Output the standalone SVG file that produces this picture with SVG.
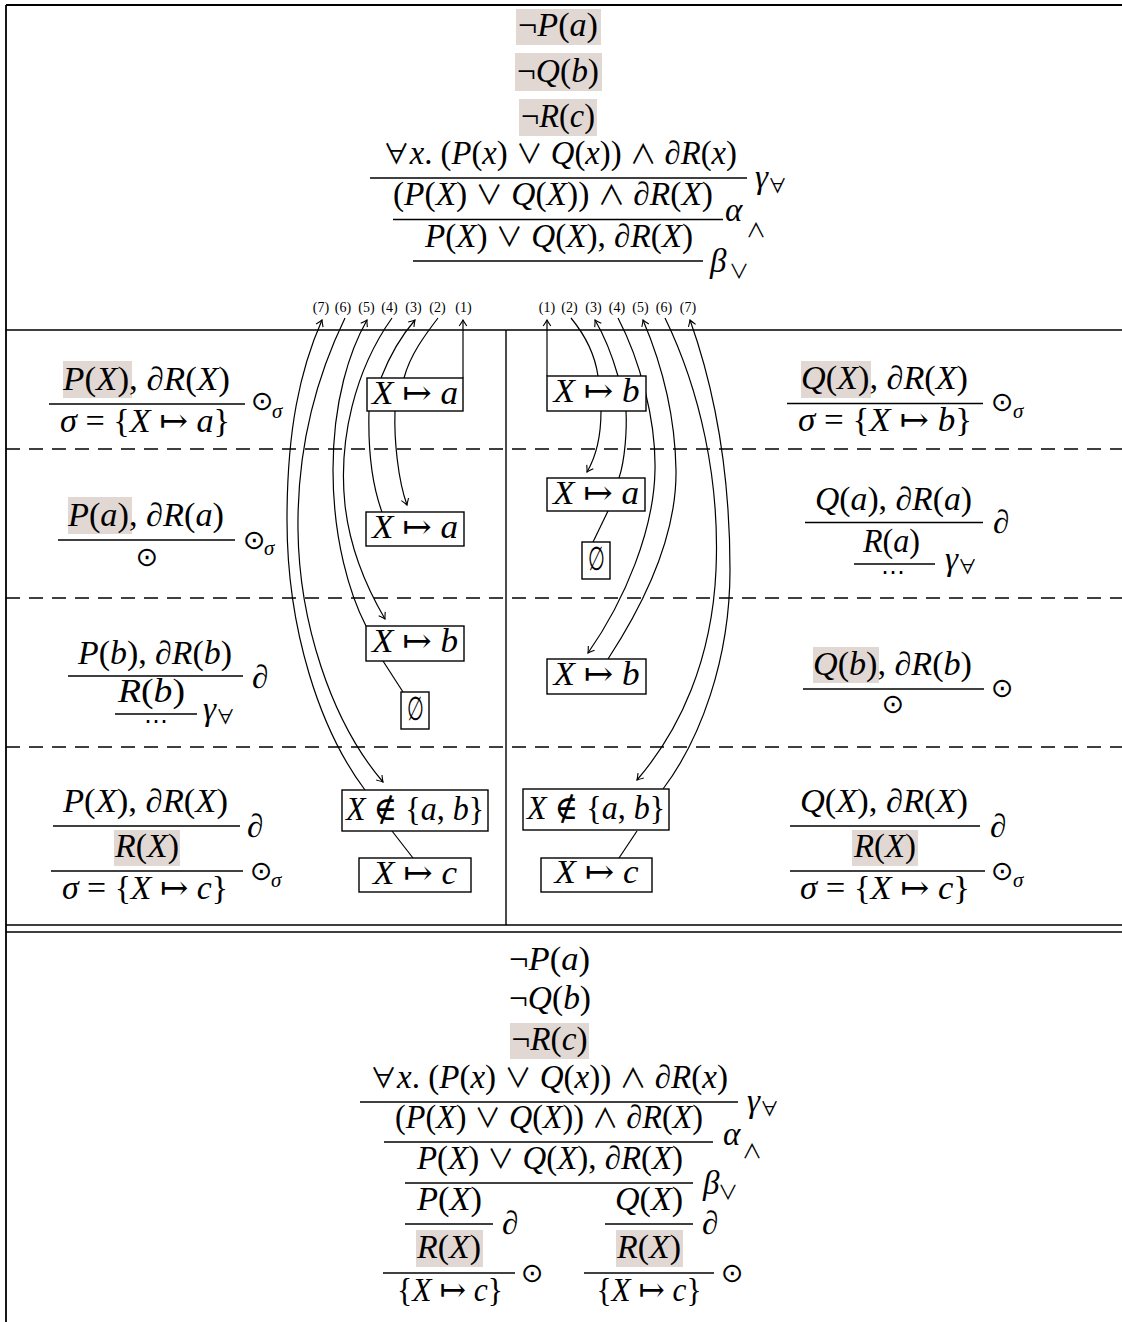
<svg xmlns="http://www.w3.org/2000/svg" width="1122" height="1322" viewBox="0 0 1122 1322">
<style>
text { font-family: "Liberation Serif", "DejaVu Serif", serif; fill: #000; }
.m { font-size: 33px; text-anchor: middle; }
.s { font-size: 33px; }
.i { font-style: italic; }
.o { font-family: "DejaVu Serif", serif; font-style: normal; font-weight: normal; }
.l { font-family: "Noto Sans CJK JP", "DejaVu Sans", sans-serif; font-style: normal; font-weight: 400; font-size: 27px; }
.sb { font-size: 19px; font-family: "Noto Sans CJK JP", "DejaVu Sans", sans-serif; font-weight: 400; }
.sb2 { font-size: 20px; font-family: "Noto Sans CJK JP", "DejaVu Sans", sans-serif; font-weight: 400; }
.od { font-size: 27px; font-family: "DejaVu Sans", sans-serif; }
.odm { font-size: 27px; font-family: "DejaVu Sans", sans-serif; text-anchor: middle; }
.dt { font-size: 24px; font-family: "DejaVu Sans", sans-serif; text-anchor: middle; }
.lb { font-size: 14px; text-anchor: middle; }
.hl { fill: #e1d7d3; }
.fr { stroke: #000; stroke-width: 1.3; }
.bd { stroke: #000; stroke-width: 1.8; fill: none; }
.sl { stroke: #000; stroke-width: 1.4; fill: none; }
.ds { stroke: #000; stroke-width: 1.3; stroke-dasharray: 14 9; fill: none; }
.bx { fill: #fff; stroke: #000; stroke-width: 1.4; }
.cn { fill: none; stroke: #000; stroke-width: 1.2; }
.ar { marker-end: url(#ah); }
</style>
<defs>
<marker id="ah" viewBox="-8 -5 10 10" refX="0" refY="0" markerWidth="10" markerHeight="10" markerUnits="userSpaceOnUse" orient="auto">
<path d="M-6,-3.8 Q-2,-1 0,0 Q-2,1 -6,3.8" fill="none" stroke="#000" stroke-width="1.1"/>
</marker>
</defs>
<rect width="1122" height="1322" fill="#fff"/>

<g id="frame">
<path class="bd" d="M6,5 H1122 M6,5 V1322"/>
<path class="sl" d="M6,330 H1122 M506,330 V925 M6,925 H1122 M6,932 H1122"/>
<path class="ds" d="M6,449 H1122 M6,598 H1122 M6,747 H1122"/>
</g>

<g id="top-proof">
<rect class="hl" x="516" y="9" width="85" height="36"/>
<rect class="hl" x="515" y="53" width="87" height="38"/>
<rect class="hl" x="519" y="99" width="78" height="37"/>
<text class="m" x="558" y="36" textLength="80" lengthAdjust="spacingAndGlyphs">¬<tspan class="i">P</tspan>(<tspan class="i">a</tspan>)</text>
<text class="m" x="558" y="82" textLength="82" lengthAdjust="spacingAndGlyphs">¬<tspan class="i">Q</tspan>(<tspan class="i">b</tspan>)</text>
<text class="m" x="558" y="127" textLength="74" lengthAdjust="spacingAndGlyphs">¬<tspan class="i">R</tspan>(<tspan class="i">c</tspan>)</text>
<text class="m" x="560" y="164" textLength="354" lengthAdjust="spacingAndGlyphs"><tspan class="l">∀</tspan><tspan class="i">x</tspan>. (<tspan class="i">P</tspan>(<tspan class="i">x</tspan>) <tspan class="l">∨</tspan> <tspan class="i">Q</tspan>(<tspan class="i">x</tspan>)) <tspan class="l">∧</tspan> ∂<tspan class="i">R</tspan>(<tspan class="i">x</tspan>)</text>
<line class="fr" x1="370" y1="178" x2="747" y2="178"/>
<text class="s i" x="755" y="188">γ</text><text class="sb" x="768" y="193">∀</text>
<text class="m" x="553" y="205" textLength="320" lengthAdjust="spacingAndGlyphs">(<tspan class="i">P</tspan>(<tspan class="i">X</tspan>) <tspan class="l">∨</tspan> <tspan class="i">Q</tspan>(<tspan class="i">X</tspan>)) <tspan class="l">∧</tspan> ∂<tspan class="i">R</tspan>(<tspan class="i">X</tspan>)</text>
<line class="fr" x1="393" y1="219.5" x2="723" y2="219.5"/>
<text class="s i" x="725" y="221">α</text><text class="sb2" x="746" y="238">∧</text>
<text class="m" x="559" y="247" textLength="268" lengthAdjust="spacingAndGlyphs"><tspan class="i">P</tspan>(<tspan class="i">X</tspan>) <tspan class="l">∨</tspan> <tspan class="i">Q</tspan>(<tspan class="i">X</tspan>), ∂<tspan class="i">R</tspan>(<tspan class="i">X</tspan>)</text>
<line class="fr" x1="413" y1="261" x2="703" y2="261"/>
<text class="s i" x="710" y="272">β</text><text class="sb2" x="729" y="279">∨</text>
</g>

<g id="branch-labels">
<text class="lb" x="321" y="312">(7)</text>
<text class="lb" x="343" y="312">(6)</text>
<text class="lb" x="366.5" y="312">(5)</text>
<text class="lb" x="389.5" y="312">(4)</text>
<text class="lb" x="413.5" y="312">(3)</text>
<text class="lb" x="437.5" y="312">(2)</text>
<text class="lb" x="463.5" y="312">(1)</text>
<text class="lb" x="547" y="312">(1)</text>
<text class="lb" x="569.5" y="312">(2)</text>
<text class="lb" x="593.5" y="312">(3)</text>
<text class="lb" x="617" y="312">(4)</text>
<text class="lb" x="640.5" y="312">(5)</text>
<text class="lb" x="664" y="312">(6)</text>
<text class="lb" x="688" y="312">(7)</text>
</g>

<g id="left-row1">
<rect class="hl" x="63" y="361" width="69" height="37"/>
<text class="m" x="146.5" y="390" textLength="167" lengthAdjust="spacingAndGlyphs"><tspan class="i">P</tspan>(<tspan class="i">X</tspan>), ∂<tspan class="i">R</tspan>(<tspan class="i">X</tspan>)</text>
<line class="fr" x1="49" y1="404" x2="245" y2="404"/>
<text class="m" x="145" y="432" textLength="170" lengthAdjust="spacingAndGlyphs"><tspan class="i">σ</tspan> = {<tspan class="i">X</tspan> <tspan class="o">↦</tspan> <tspan class="i">a</tspan>}</text>
<text class="od" x="251" y="410">⊙</text><text class="i" font-size="21" x="272" y="418">σ</text>
</g>

<g id="left-row2">
<rect class="hl" x="68" y="497" width="64" height="37"/>
<text class="m" x="146" y="526" textLength="156" lengthAdjust="spacingAndGlyphs"><tspan class="i">P</tspan>(<tspan class="i">a</tspan>), ∂<tspan class="i">R</tspan>(<tspan class="i">a</tspan>)</text>
<line class="fr" x1="58" y1="540" x2="235" y2="540"/>
<text class="odm" x="147" y="566">⊙</text>
<text class="od" x="243" y="549">⊙</text><text class="i" font-size="21" x="264" y="555">σ</text>
</g>

<g id="left-row3">
<text class="m" x="155" y="664" textLength="154" lengthAdjust="spacingAndGlyphs"><tspan class="i">P</tspan>(<tspan class="i">b</tspan>), ∂<tspan class="i">R</tspan>(<tspan class="i">b</tspan>)</text>
<line class="fr" x1="68" y1="676" x2="243" y2="676"/>
<text class="s" x="252" y="688">∂</text>
<text class="m" x="151.5" y="702" textLength="67" lengthAdjust="spacingAndGlyphs"><tspan class="i">R</tspan>(<tspan class="i">b</tspan>)</text>
<line class="fr" x1="115" y1="714" x2="197" y2="714"/>
<text class="dt" x="156" y="729">⋯</text>
<text class="s i" x="203" y="720">γ</text><text class="sb" x="216" y="724">∀</text>
</g>

<g id="left-row4">
<text class="m" x="145.5" y="812" textLength="165" lengthAdjust="spacingAndGlyphs"><tspan class="i">P</tspan>(<tspan class="i">X</tspan>), ∂<tspan class="i">R</tspan>(<tspan class="i">X</tspan>)</text>
<line class="fr" x1="53" y1="826" x2="240" y2="826"/>
<text class="s" x="247" y="837">∂</text>
<rect class="hl" x="114" y="830" width="66" height="36"/>
<text class="m" x="147" y="857" textLength="64" lengthAdjust="spacingAndGlyphs"><tspan class="i">R</tspan>(<tspan class="i">X</tspan>)</text>
<line class="fr" x1="51" y1="871" x2="243" y2="871"/>
<text class="m" x="145" y="899" textLength="166" lengthAdjust="spacingAndGlyphs"><tspan class="i">σ</tspan> = {<tspan class="i">X</tspan> <tspan class="o">↦</tspan> <tspan class="i">c</tspan>}</text>
<text class="od" x="250" y="880">⊙</text><text class="i" font-size="21" x="271" y="887">σ</text>
</g>

<g id="right-row1">
<rect class="hl" x="801" y="361" width="70" height="37"/>
<text class="m" x="884.5" y="389" textLength="167" lengthAdjust="spacingAndGlyphs"><tspan class="i">Q</tspan>(<tspan class="i">X</tspan>), ∂<tspan class="i">R</tspan>(<tspan class="i">X</tspan>)</text>
<line class="fr" x1="787" y1="403.5" x2="983" y2="403.5"/>
<text class="m" x="885" y="431" textLength="174" lengthAdjust="spacingAndGlyphs"><tspan class="i">σ</tspan> = {<tspan class="i">X</tspan> <tspan class="o">↦</tspan> <tspan class="i">b</tspan>}</text>
<text class="od" x="991" y="411">⊙</text><text class="i" font-size="21" x="1013" y="418">σ</text>
</g>

<g id="right-row2">
<text class="m" x="893.5" y="510" textLength="157" lengthAdjust="spacingAndGlyphs"><tspan class="i">Q</tspan>(<tspan class="i">a</tspan>), ∂<tspan class="i">R</tspan>(<tspan class="i">a</tspan>)</text>
<line class="fr" x1="805" y1="522.5" x2="983" y2="522.5"/>
<text class="s" x="993" y="533">∂</text>
<text class="m" x="891.5" y="552" textLength="57" lengthAdjust="spacingAndGlyphs"><tspan class="i">R</tspan>(<tspan class="i">a</tspan>)</text>
<line class="fr" x1="854" y1="564" x2="935" y2="564"/>
<text class="dt" x="893" y="580">⋯</text>
<text class="s i" x="945" y="570">γ</text><text class="sb" x="958" y="574">∀</text>
</g>

<g id="right-row3">
<rect class="hl" x="813" y="647" width="66" height="36"/>
<text class="m" x="892.5" y="675" textLength="159" lengthAdjust="spacingAndGlyphs"><tspan class="i">Q</tspan>(<tspan class="i">b</tspan>), ∂<tspan class="i">R</tspan>(<tspan class="i">b</tspan>)</text>
<line class="fr" x1="803" y1="689" x2="984" y2="689"/>
<text class="odm" x="893" y="713">⊙</text>
<text class="od" x="991" y="697">⊙</text>
</g>

<g id="right-row4">
<text class="m" x="884" y="812" textLength="168" lengthAdjust="spacingAndGlyphs"><tspan class="i">Q</tspan>(<tspan class="i">X</tspan>), ∂<tspan class="i">R</tspan>(<tspan class="i">X</tspan>)</text>
<line class="fr" x1="790" y1="826" x2="980" y2="826"/>
<text class="s" x="990" y="837">∂</text>
<rect class="hl" x="852" y="830" width="66" height="36"/>
<text class="m" x="885" y="857" textLength="62" lengthAdjust="spacingAndGlyphs"><tspan class="i">R</tspan>(<tspan class="i">X</tspan>)</text>
<line class="fr" x1="790" y1="871" x2="985" y2="871"/>
<text class="m" x="885" y="899" textLength="170" lengthAdjust="spacingAndGlyphs"><tspan class="i">σ</tspan> = {<tspan class="i">X</tspan> <tspan class="o">↦</tspan> <tspan class="i">c</tspan>}</text>
<text class="od" x="991" y="880">⊙</text><text class="i" font-size="21" x="1013" y="887">σ</text>
</g>

<g id="bottom-proof">
<text class="m" x="549.5" y="970" textLength="81" lengthAdjust="spacingAndGlyphs">¬<tspan class="i">P</tspan>(<tspan class="i">a</tspan>)</text>
<text class="m" x="550" y="1009" textLength="82" lengthAdjust="spacingAndGlyphs">¬<tspan class="i">Q</tspan>(<tspan class="i">b</tspan>)</text>
<rect class="hl" x="510" y="1023" width="79" height="36"/>
<text class="m" x="549.5" y="1050" textLength="76" lengthAdjust="spacingAndGlyphs">¬<tspan class="i">R</tspan>(<tspan class="i">c</tspan>)</text>
<text class="m" x="549" y="1088" textLength="358" lengthAdjust="spacingAndGlyphs"><tspan class="l">∀</tspan><tspan class="i">x</tspan>. (<tspan class="i">P</tspan>(<tspan class="i">x</tspan>) <tspan class="l">∨</tspan> <tspan class="i">Q</tspan>(<tspan class="i">x</tspan>)) <tspan class="l">∧</tspan> ∂<tspan class="i">R</tspan>(<tspan class="i">x</tspan>)</text>
<line class="fr" x1="360" y1="1102" x2="738" y2="1102"/>
<text class="s i" x="747" y="1112">γ</text><text class="sb" x="760" y="1116">∀</text>
<text class="m" x="549" y="1128" textLength="308" lengthAdjust="spacingAndGlyphs">(<tspan class="i">P</tspan>(<tspan class="i">X</tspan>) <tspan class="l">∨</tspan> <tspan class="i">Q</tspan>(<tspan class="i">X</tspan>)) <tspan class="l">∧</tspan> ∂<tspan class="i">R</tspan>(<tspan class="i">X</tspan>)</text>
<line class="fr" x1="384" y1="1142" x2="713" y2="1142"/>
<text class="s i" x="723" y="1145">α</text><text class="sb2" x="742" y="1159">∧</text>
<text class="m" x="550" y="1169" textLength="266" lengthAdjust="spacingAndGlyphs"><tspan class="i">P</tspan>(<tspan class="i">X</tspan>) <tspan class="l">∨</tspan> <tspan class="i">Q</tspan>(<tspan class="i">X</tspan>), ∂<tspan class="i">R</tspan>(<tspan class="i">X</tspan>)</text>
<line class="fr" x1="405" y1="1183" x2="693" y2="1183"/>
<text class="s i" x="703" y="1194">β</text><text class="sb2" x="718" y="1200">∨</text>

<text class="m" x="449.5" y="1210" textLength="65" lengthAdjust="spacingAndGlyphs"><tspan class="i">P</tspan>(<tspan class="i">X</tspan>)</text>
<line class="fr" x1="405" y1="1224" x2="493" y2="1224"/>
<text class="s" x="502" y="1234">∂</text>
<rect class="hl" x="416" y="1230" width="67" height="37"/>
<text class="m" x="449" y="1258" textLength="64" lengthAdjust="spacingAndGlyphs"><tspan class="i">R</tspan>(<tspan class="i">X</tspan>)</text>
<line class="fr" x1="383" y1="1273" x2="515" y2="1273"/>
<text class="m" x="450" y="1301" textLength="106" lengthAdjust="spacingAndGlyphs">{<tspan class="i">X</tspan> <tspan class="o">↦</tspan> <tspan class="i">c</tspan>}</text>
<text class="od" x="521" y="1282">⊙</text>

<text class="m" x="649" y="1210" textLength="68" lengthAdjust="spacingAndGlyphs"><tspan class="i">Q</tspan>(<tspan class="i">X</tspan>)</text>
<line class="fr" x1="605" y1="1224" x2="693" y2="1224"/>
<text class="s" x="702" y="1234">∂</text>
<rect class="hl" x="616" y="1230" width="67" height="37"/>
<text class="m" x="649" y="1258" textLength="64" lengthAdjust="spacingAndGlyphs"><tspan class="i">R</tspan>(<tspan class="i">X</tspan>)</text>
<line class="fr" x1="584" y1="1273" x2="714" y2="1273"/>
<text class="m" x="649" y="1301" textLength="105" lengthAdjust="spacingAndGlyphs">{<tspan class="i">X</tspan> <tspan class="o">↦</tspan> <tspan class="i">c</tspan>}</text>
<text class="od" x="721" y="1282">⊙</text>
</g>

<g id="connectors">
<path class="cn ar" d="M463,378 L463,320"/>
<path class="cn" d="M438,318 C425,335 410,355 404,378"/>
<path class="cn ar" d="M395,411 C394,440 398,480 407,505"/>
<path class="cn" d="M382,512 C372,485 368,450 369,411"/>
<path class="cn ar" d="M381,378 C390,355 402,335 415,320"/>
<path class="cn ar" d="M392,318 C355,370 338,440 345,505 C350,550 368,590 385,619"/>
<path class="cn ar" d="M366,626 C350,595 333,540 333,470 C333,400 350,350 367,320"/>
<path class="cn ar" d="M345,318 C315,380 297,450 298,530 C299,620 330,720 383,782"/>
<path class="cn ar" d="M365,790 C320,730 287,630 287,520 C287,430 300,370 322,320"/>
<path class="cn" d="M383,661 L403,692"/>
<path class="cn" d="M392,831 L413,858"/>

<path class="cn ar" d="M547,376 L547,320"/>
<path class="cn" d="M571,318 C585,335 595,355 598,376"/>
<path class="cn ar" d="M601,411 C601,435 597,455 587,472"/>
<path class="cn" d="M619,478 C625,460 627,430 626,411"/>
<path class="cn ar" d="M618,376 C612,355 605,337 595,320"/>
<path class="cn ar" d="M618,318 C640,360 656,420 655,470 C654,530 625,600 588,653"/>
<path class="cn ar" d="M608,659 C640,610 677,540 676,470 C675,410 660,360 643,320"/>
<path class="cn ar" d="M665,318 C700,390 720,480 716,570 C712,660 680,730 637,780"/>
<path class="cn ar" d="M663,789 C700,740 730,660 730,570 C730,470 715,390 690,320"/>
<path class="cn" d="M608,511 L593,542"/>
<path class="cn" d="M637,831 L619,858"/>
</g>

<g id="box-a1"><rect class="bx" x="367" y="378" width="96" height="33"/><text class="m" x="415" y="404" textLength="86" lengthAdjust="spacingAndGlyphs"><tspan class="i">X</tspan> <tspan class="o">↦</tspan> <tspan class="i">a</tspan></text></g>
<g id="box-a2"><rect class="bx" x="366" y="512" width="98" height="34"/><text class="m" x="415" y="538" textLength="86" lengthAdjust="spacingAndGlyphs"><tspan class="i">X</tspan> <tspan class="o">↦</tspan> <tspan class="i">a</tspan></text></g>
<g id="box-a3"><rect class="bx" x="366" y="626" width="98" height="35"/><text class="m" x="415" y="652" textLength="86" lengthAdjust="spacingAndGlyphs"><tspan class="i">X</tspan> <tspan class="o">↦</tspan> <tspan class="i">b</tspan></text></g>
<g id="box-a4"><rect class="bx" x="401" y="692" width="28" height="37"/><text class="m" x="415" y="720" textLength="17" lengthAdjust="spacingAndGlyphs"><tspan class="o">∅</tspan></text></g>
<g id="box-a5"><rect class="bx" x="342" y="790" width="146" height="41"/><text class="m" x="415" y="820" textLength="138" lengthAdjust="spacingAndGlyphs"><tspan class="i">X</tspan> <tspan class="o">∉</tspan> {<tspan class="i">a</tspan>, <tspan class="i">b</tspan>}</text></g>
<g id="box-a6"><rect class="bx" x="359" y="858" width="112" height="34"/><text class="m" x="415" y="884" textLength="84" lengthAdjust="spacingAndGlyphs"><tspan class="i">X</tspan> <tspan class="o">↦</tspan> <tspan class="i">c</tspan></text></g>

<g id="box-b1"><rect class="bx" x="547" y="376" width="99" height="35"/><text class="m" x="596.5" y="402" textLength="86" lengthAdjust="spacingAndGlyphs"><tspan class="i">X</tspan> <tspan class="o">↦</tspan> <tspan class="i">b</tspan></text></g>
<g id="box-b2"><rect class="bx" x="547" y="478" width="98" height="33"/><text class="m" x="596" y="504" textLength="86" lengthAdjust="spacingAndGlyphs"><tspan class="i">X</tspan> <tspan class="o">↦</tspan> <tspan class="i">a</tspan></text></g>
<g id="box-b3"><rect class="bx" x="582" y="542" width="28" height="37"/><text class="m" x="596" y="570" textLength="17" lengthAdjust="spacingAndGlyphs"><tspan class="o">∅</tspan></text></g>
<g id="box-b4"><rect class="bx" x="547" y="659" width="99" height="35"/><text class="m" x="596.5" y="685" textLength="86" lengthAdjust="spacingAndGlyphs"><tspan class="i">X</tspan> <tspan class="o">↦</tspan> <tspan class="i">b</tspan></text></g>
<g id="box-b5"><rect class="bx" x="523" y="789" width="146" height="41"/><text class="m" x="596" y="819" textLength="138" lengthAdjust="spacingAndGlyphs"><tspan class="i">X</tspan> <tspan class="o">∉</tspan> {<tspan class="i">a</tspan>, <tspan class="i">b</tspan>}</text></g>
<g id="box-b6"><rect class="bx" x="541" y="858" width="111" height="34"/><text class="m" x="596.5" y="883" textLength="84" lengthAdjust="spacingAndGlyphs"><tspan class="i">X</tspan> <tspan class="o">↦</tspan> <tspan class="i">c</tspan></text></g>
</svg>
